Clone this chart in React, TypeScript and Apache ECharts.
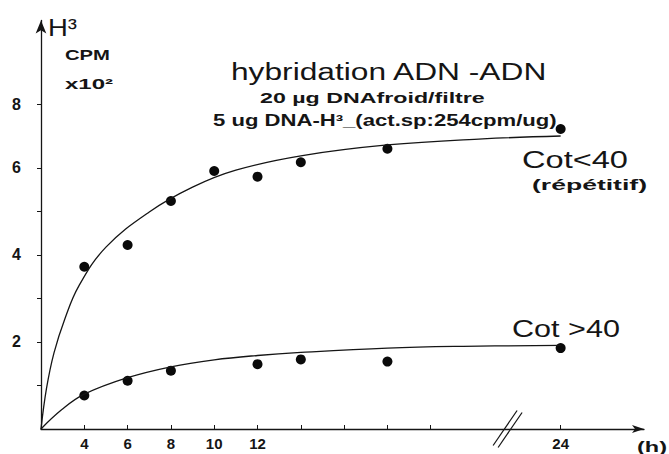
import React, { useEffect, useRef } from "react";
import * as echarts from "echarts";

// ---- data (hours, CPM x10^2) ----
const upperHours = [4, 6, 8, 10, 12, 14, 18, 24];
const upperValues = [3.73, 4.23, 5.24, 5.93, 5.8, 6.18, 6.6, 7.22];
const lowerHours = [4, 6, 8, 12, 14, 18, 24];
const lowerValues = [0.77, 1.11, 1.34, 1.49, 1.6, 1.55, 1.86];

// hand-drawn fitted curves of the original figure
const upperCurveHours = [0, 0.5, 1.2, 2.2, 3.5, 5, 7, 9, 11, 14, 18, 21.6, 24];
const upperCurveValues = [0, 0.92, 1.75, 2.53, 3.29, 4.18, 4.99, 5.56, 5.95, 6.38, 6.72, 6.91, 7.0];
const lowerCurveHours = [0, 1.9, 4, 6, 8, 10, 12, 14, 18, 21, 24];
const lowerCurveValues = [0, 0.44, 0.8, 1.18, 1.43, 1.59, 1.69, 1.76, 1.86, 1.9, 1.92];

// axis ticks / labels
const xTickHours = [4, 6, 8, 10, 12, 14, 16, 18, 20, 24];
const xLabelHours = [4, 6, 8, 10, 12, 24];
const yTickValues = [1, 2, 3, 4, 5, 6, 8];
const yLabelValues = [2, 4, 6, 8];

// the original figure's (broken / uneven) axis scales
function xPos(h: number) {
  if (h <= 4) return h / 2;
  if (h <= 20) return h - 2;
  return 18 + (h - 20) * 1.5;
}
function xHour(p: number) {
  if (p <= 2) return p * 2;
  if (p <= 18) return p + 2;
  return 20 + (p - 18) / 1.5;
}
function yPos(v: number) {
  return v <= 6 ? v : 6 + (v - 6) * 0.735;
}
function yVal(p: number) {
  return p <= 6 ? p : 6 + (p - 6) / 0.735;
}

const FAMILY = '"Liberation Sans", Arial, Helvetica, sans-serif';
const INK = "#151515";

export default function App() {
  const ref = useRef<HTMLDivElement>(null);
  useEffect(() => {
    document.body.style.margin = "0";
    const el = ref.current as HTMLDivElement;
    const chart = echarts.init(el, null, { renderer: "svg" });

    const toPts = (hs: number[], vs: number[]) => hs.map((h, i) => [xPos(h), yPos(vs[i])]);

    chart.setOption({
      animation: false,
      backgroundColor: "#ffffff",
      grid: { left: 41, right: 25, top: 20.5, bottom: 25, containLabel: false },
      xAxis: {
        type: "value",
        min: 0,
        max: 27.85,
        splitLine: { show: false },
        axisLine: {
          show: true,
          symbol: ["none", "arrow"],
          symbolSize: [6, 12],
          lineStyle: { color: INK, width: 1.3 },
        },
        axisTick: {
          show: true,
          inside: true,
          length: 4,
          customValues: xTickHours.map(xPos),
          lineStyle: { color: INK, width: 1 },
        },
        axisLabel: {
          show: true,
          customValues: xLabelHours.map(xPos),
          formatter: (v: number) => String(Math.round(xHour(v))),
          color: INK,
          fontFamily: FAMILY,
          fontWeight: "bold",
          fontSize: 15,
          margin: 7,
        },
      },
      yAxis: {
        type: "value",
        min: 0,
        max: 9.39,
        splitLine: { show: false },
        axisLine: {
          show: true,
          symbol: ["none", "arrow"],
          symbolSize: [8, 13],
          lineStyle: { color: INK, width: 1.3 },
        },
        axisTick: {
          show: true,
          inside: false,
          length: 4,
          customValues: yTickValues.map(yPos),
          lineStyle: { color: INK, width: 1 },
        },
        axisLabel: {
          show: true,
          customValues: yLabelValues.map(yPos),
          formatter: (v: number) => String(Math.round(yVal(v))),
          color: INK,
          fontFamily: FAMILY,
          fontWeight: "bold",
          fontSize: 16,
          margin: 20,
          padding: [0, 0, 10, 0],
        },
      },
      series: [
        {
          type: "line",
          data: toPts(upperCurveHours, upperCurveValues),
          smooth: 0.4,
          showSymbol: false,
          silent: true,
          lineStyle: { color: INK, width: 1.3 },
        },
        {
          type: "line",
          data: toPts(lowerCurveHours, lowerCurveValues),
          smooth: 0.4,
          showSymbol: false,
          silent: true,
          lineStyle: { color: INK, width: 1.3 },
        },
        {
          type: "scatter",
          data: toPts(upperHours, upperValues),
          symbolSize: 10,
          itemStyle: { color: "#0a0a0a", opacity: 1 },
        },
        {
          type: "scatter",
          data: toPts(lowerHours, lowerValues),
          symbolSize: 10,
          itemStyle: { color: "#0a0a0a", opacity: 1 },
        },
      ],
    });

    // text helpers: fit each text into the width it occupies in the figure
    const ctx = document.createElement("canvas").getContext("2d") as CanvasRenderingContext2D;
    const fit = (text: string, weight: string, size: number, left: number, right: number, cy: number) => {
      const font = `${weight} ${size}px ${FAMILY}`;
      ctx.font = font;
      const w = ctx.measureText(text).width || 1;
      return {
        type: "text",
        x: left,
        y: cy,
        scaleX: (right - left) / w,
        silent: true,
        style: {
          text,
          font,
          fill: INK,
          textAlign: "left",
          textVerticalAlign: "middle",
          align: "left",
          verticalAlign: "middle",
        },
      };
    };

    const c = chart.convertToPixel({ gridIndex: 0 }, [21.55, 0]) as number[];
    const cx = c[0];
    const cy = c[1];

    chart.setOption({
      graphic: [
        fit("H³", "normal", 24, 48, 77, 28),
        fit("CPM", "bold", 15, 65, 110, 55),
        fit("x10²", "bold", 15, 65, 113, 84),
        fit("hybridation ADN -ADN", "normal", 23, 231, 548, 72),
        fit("20 µg DNAfroid/filtre", "bold", 15, 260, 485, 97.5),
        fit("5 ug DNA-H³_(act.sp:254cpm/ug)", "bold", 16, 213, 557, 121),
        fit("Cot<40", "normal", 24, 522, 628, 160),
        fit("(répétitif)", "bold", 14, 532, 647, 185),
        fit("Cot >40", "normal", 24, 512, 620, 329),
        fit("(h)", "bold", 15, 637, 667, 447),
        {
          type: "line",
          silent: true,
          shape: { x1: cx - 14.5, y1: cy + 16.5, x2: cx + 9.5, y2: cy - 18.5 },
          style: { stroke: INK, lineWidth: 1.2 },
        },
        {
          type: "line",
          silent: true,
          shape: { x1: cx - 9.5, y1: cy + 18.5, x2: cx + 14.5, y2: cy - 16.5 },
          style: { stroke: INK, lineWidth: 1.2 },
        },
      ],
    });

    return () => chart.dispose();
  }, []);
  return <div ref={ref} style={{ width: 669, height: 454, background: "#ffffff" }} />;
}
